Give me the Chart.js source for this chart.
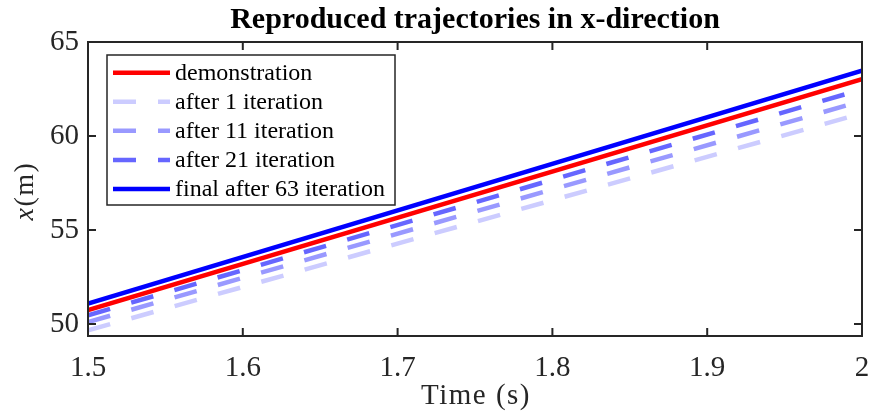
<!DOCTYPE html>
<html>
<head>
<meta charset="utf-8">
<script src="https://cdn.jsdelivr.net/npm/chart.js@4.4.1/dist/chart.umd.min.js"></script>
<style>
  html, body { margin: 0; padding: 0; background: #fff; }
  canvas { display: block; }
</style>
</head>
<body>
<canvas id="c" width="869" height="414"></canvas>
<script>
// Sample times (s) and reproduced x positions (m)
const timeS = [1.5, 2.0];
const demonstration = [50.74, 63.02];
const after1 = [49.66, 61.20];
const after11 = [50.10, 61.86];
const after21 = [50.46, 62.48];
const final63 = [51.09, 63.47];

const seriesNames = ['demonstration', 'after 1 iteration', 'after 11 iteration',
                     'after 21 iteration', 'final after 63 iteration'];

const xTicks = [1.5, 1.6, 1.7, 1.8, 1.9, 2.0];
const xTickLabels = ['1.5', '1.6', '1.7', '1.8', '1.9', '2'];
const yTicks = [50, 55, 60, 65];
const yTickLabels = ['50', '55', '60', '65'];

const titleText = 'Reproduced trajectories in x-direction';
const xTitle = 'Time (s)';

// Styling
const seriesData = [demonstration, after1, after11, after21, final63];
const seriesColors = ['#ff0000', '#ccccff', '#9999ff', '#6666ff', '#0000ff'];
const seriesDashed = [false, true, true, true, false];
const DASH = [23, 22];
const LINE_W = 4.5;
const AXIS_COLOR = '#262626';
const SERIF = '"Liberation Serif", "Times New Roman", serif';

const datasets = seriesData.map((vals, i) => ({
  label: seriesNames[i],
  data: timeS.map((t, k) => ({ x: t, y: vals[k] })),
  borderColor: seriesColors[i],
  backgroundColor: seriesColors[i],
  borderWidth: LINE_W,
  borderDash: seriesDashed[i] ? DASH : [],
  borderCapStyle: 'butt',
  pointRadius: 0,
  tension: 0,
  fill: false,
  clip: 0
}));

// Box, inward ticks, in-plot legend and axis titles
const framePlugin = {
  id: 'frame',
  afterDraw(chart) {
    const { ctx, chartArea: a, scales } = chart;
    ctx.save();
    ctx.strokeStyle = AXIS_COLOR;
    ctx.lineWidth = 2;
    ctx.strokeRect(a.left, a.top, a.right - a.left, a.bottom - a.top);
    const tl = 8;
    ctx.beginPath();
    xTicks.forEach(v => {
      const px = scales.x.getPixelForValue(v);
      ctx.moveTo(px, a.bottom); ctx.lineTo(px, a.bottom - tl);
      ctx.moveTo(px, a.top); ctx.lineTo(px, a.top + tl);
    });
    yTicks.forEach(v => {
      const py = scales.y.getPixelForValue(v);
      ctx.moveTo(a.left, py); ctx.lineTo(a.left + tl, py);
      ctx.moveTo(a.right, py); ctx.lineTo(a.right - tl, py);
    });
    ctx.stroke();

    // Legend
    const lx = 107, ly = 55, lw = 288, lh = 150;
    ctx.fillStyle = '#ffffff';
    ctx.fillRect(lx, ly, lw, lh);
    ctx.lineWidth = 1.5;
    ctx.strokeStyle = AXIS_COLOR;
    ctx.strokeRect(lx, ly, lw, lh);
    const rowY = [72.7, 101.8, 130.8, 159.9, 189];
    ctx.font = '24px ' + SERIF;
    ctx.textBaseline = 'middle';
    ctx.textAlign = 'left';
    seriesNames.forEach((name, i) => {
      const y = rowY[i];
      ctx.beginPath();
      ctx.setLineDash(seriesDashed[i] ? DASH : []);
      ctx.lineDashOffset = 0;
      ctx.strokeStyle = seriesColors[i];
      ctx.lineWidth = LINE_W;
      ctx.lineCap = 'butt';
      ctx.moveTo(113, y); ctx.lineTo(170, y);
      ctx.stroke();
      ctx.setLineDash([]);
      ctx.fillStyle = '#000000';
      ctx.fillText(name, 175, y + 1);
    });

    // x-axis title
    ctx.fillStyle = '#262626';
    ctx.font = '29px ' + SERIF;
    ctx.textAlign = 'center';
    ctx.textBaseline = 'alphabetic';
    if ('letterSpacing' in ctx) ctx.letterSpacing = '1.5px';
    ctx.fillText(xTitle, (a.left + a.right) / 2 + 1, 404);

    // y-axis title: italic x followed by (m)
    ctx.translate(33, 191);
    ctx.rotate(-Math.PI / 2);
    ctx.textAlign = 'left';
    ctx.font = 'italic 28px ' + SERIF;
    const wx = ctx.measureText('x').width;
    ctx.font = '28px ' + SERIF;
    const wm = ctx.measureText('(m)').width;
    const start = -(wx + wm) / 2;
    ctx.font = 'italic 28px ' + SERIF;
    ctx.fillText('x', start, 0);
    ctx.font = '28px ' + SERIF;
    ctx.fillText('(m)', start + wx, 0);
    ctx.restore();
  }
};

new Chart(document.getElementById('c'), {
  type: 'line',
  data: { datasets },
  options: {
    responsive: false,
    animation: false,
    events: [],
    layout: { padding: { left: 0, right: 7, top: 0, bottom: 0 } },
    plugins: {
      legend: { display: false },
      tooltip: { enabled: false },
      title: {
        display: true,
        fullSize: false,
        text: titleText,
        color: '#000000',
        font: { family: SERIF, size: 30, weight: 'bold' },
        padding: { top: 2, bottom: 4 }
      }
    },
    scales: {
      x: {
        type: 'linear',
        min: 1.5,
        max: 2.0,
        grid: { display: false, drawTicks: false },
        border: { display: false },
        afterBuildTicks: s => { s.ticks = xTicks.map(v => ({ value: v })); },
        afterFit: s => { s.height = 78; s.paddingLeft = 0; s.paddingRight = 0; },
        ticks: {
          color: '#262626',
          font: { family: SERIF, size: 29 },
          padding: 15,
          maxRotation: 0,
          autoSkip: false,
          callback: (v) => xTickLabels[xTicks.findIndex(t => Math.abs(t - v) < 1e-9)]
        }
      },
      y: {
        type: 'linear',
        min: 49.36,
        max: 65,
        grid: { display: false, drawTicks: false },
        border: { display: false },
        afterBuildTicks: s => { s.ticks = yTicks.map(v => ({ value: v })); },
        afterFit: s => { s.width = 88; s.paddingTop = 0; s.paddingBottom = 0; },
        ticks: {
          color: '#262626',
          font: { family: SERIF, size: 29 },
          padding: 9,
          autoSkip: false,
          callback: (v) => yTickLabels[yTicks.indexOf(v)]
        }
      }
    }
  },
  plugins: [framePlugin]
});
</script>
</body>
</html>
